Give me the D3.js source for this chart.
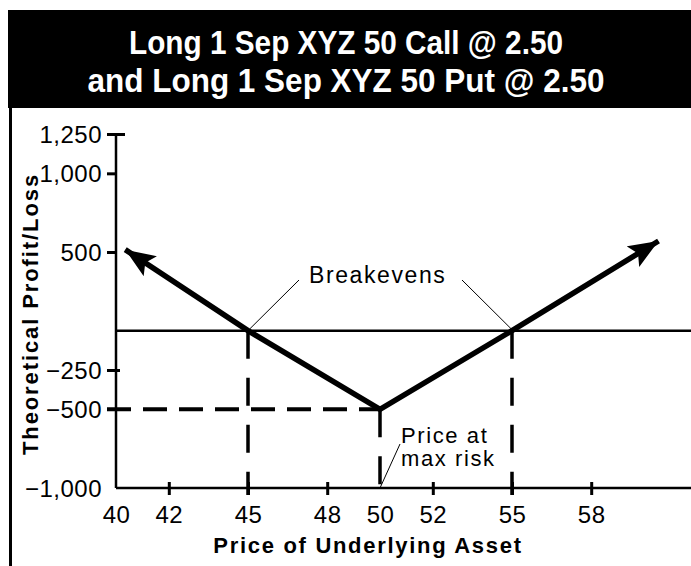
<!DOCTYPE html>
<html><head><meta charset="utf-8">
<script src="https://cdn.jsdelivr.net/npm/d3@7"></script>
<style>
html,body{margin:0;padding:0;background:#fff;}
svg{display:block;font-family:"Liberation Sans",Arial,Helvetica,sans-serif;}
</style></head>
<body><svg id="c" width="691" height="566"></svg>
<script>
const titleLines = ["Long 1 Sep XYZ 50 Call @ 2.50", "and Long 1 Sep XYZ 50 Put @ 2.50"];
const xTicks = [40, 42, 45, 48, 50, 52, 55, 58];
const yTicks = [1250, 1000, 500, -250, -500, -1000];
const payoffX = [40.35, 45, 50, 55, 60.55];
const payoffY = [515, 0, -500, 0, 570];
const breakevens = [45, 55];
const maxRiskPrice = [50];
const maxLoss = [-500];
const xLabel = "Price of Underlying Asset";
const yLabel = "Theoretical Profit/Loss";
const breakevenLabel = "Breakevens";
const maxRiskLabel = ["Price at", "max risk"];

const svg = d3.select("#c");
const x = d3.scaleLinear().domain([40, 50]).range([116, 380]);
const y = d3.scaleLinear().domain([-1000, 1250]).range([488, 134]);

// frame
svg.append("rect").attr("x", 8).attr("y", 10).attr("width", 683).attr("height", 98).attr("fill", "#000");
svg.append("rect").attr("x", 9).attr("y", 10).attr("width", 3).attr("height", 556).attr("fill", "#000");
const titleWidths = [434, 517];
svg.selectAll(".title").data(titleLines).join("text")
  .attr("x", 346).attr("y", (d, i) => 54 + i * 38)
  .attr("text-anchor", "middle").attr("fill", "#fff")
  .attr("font-weight", "bold").attr("font-size", 34)
  .attr("textLength", (d, i) => titleWidths[i]).attr("lengthAdjust", "spacingAndGlyphs")
  .text(d => d);

// defs arrow
const defs = svg.append("defs");
defs.append("marker").attr("id", "arr").attr("markerUnits", "userSpaceOnUse")
  .attr("viewBox", "0 0 30 24").attr("refX", 30).attr("refY", 12)
  .attr("markerWidth", 30).attr("markerHeight", 24).attr("orient", "auto-start-reverse")
  .append("path").attr("d", "M0,0 L30,12 L0,24 L6,12 Z").attr("fill", "#000");

const tickFont = t => t.attr("font-size", 24).attr("letter-spacing", 0.5).attr("fill", "#000")
  .attr("font-family", "Liberation Sans, Arial, sans-serif");

// x axis
const xAxis = d3.axisBottom(x).tickValues(xTicks).tickSize(0).tickPadding(0).tickFormat(d3.format("d"));
const gx = svg.append("g").attr("transform", `translate(0,${y(-1000)})`).call(xAxis);
gx.select(".domain").remove();
gx.append("line").attr("x1", x(40)).attr("x2", 691).attr("stroke", "#000").attr("stroke-width", 2.5);
gx.selectAll(".tick line").filter(d => d !== 40 && d !== 50)
  .attr("y1", -6).attr("y2", 7).attr("stroke", "#000").attr("stroke-width", 3);
gx.selectAll(".tick text").attr("y", 35).attr("dy", 0).call(tickFont);

// y axis
const fmtY = d => (d < 0 ? "\u2212" : "") + d3.format(",")(Math.abs(d));
const yAxis = d3.axisLeft(y).tickValues(yTicks).tickSize(0).tickPadding(0).tickFormat(fmtY);
const gy = svg.append("g").attr("transform", `translate(${x(40)},0)`).call(yAxis);
gy.select(".domain").remove();
gy.append("line").attr("y1", y(1250)).attr("y2", y(-1000)).attr("stroke", "#000").attr("stroke-width", 2.5);
gy.selectAll(".tick line").filter(d => d !== -1000 && d !== -500)
  .attr("x1", -9).attr("x2", d => d === 1250 ? 9 : (d === -250 ? 4 : 1))
  .attr("stroke", "#000").attr("stroke-width", 3);
gy.selectAll(".tick text").attr("x", -14).attr("dy", "0.36em").call(tickFont);

// zero line
svg.append("line").attr("x1", x(40)).attr("x2", 691).attr("y1", y(0)).attr("y2", y(0))
  .attr("stroke", "#000").attr("stroke-width", 2.5);

// dashed guides
const dashV = "28,19";
svg.selectAll(".bev").data(breakevens).join("line")
  .attr("x1", d => x(d)).attr("x2", d => x(d)).attr("y1", y(0)).attr("y2", y(-1000) + 7)
  .attr("stroke", "#000").attr("stroke-width", 3.5).attr("stroke-dasharray", dashV);
svg.selectAll(".mrp").data(maxRiskPrice).join("line")
  .attr("x1", d => x(d)).attr("x2", d => x(d)).attr("y1", y(maxLoss[0])).attr("y2", y(-1000))
  .attr("stroke", "#000").attr("stroke-width", 3.5).attr("stroke-dasharray", dashV);
svg.selectAll(".ml").data(maxLoss).join("line")
  .attr("x1", x(40) - 9).attr("x2", x(maxRiskPrice[0])).attr("y1", d => y(d)).attr("y2", d => y(d))
  .attr("stroke", "#000").attr("stroke-width", 4).attr("stroke-dasharray", "24,12");

// payoff line
const pts = payoffX.map((v, i) => [v, payoffY[i]]);
svg.append("path").datum(pts)
  .attr("d", d3.line().x(d => x(d[0])).y(d => y(d[1])))
  .attr("fill", "none").attr("stroke", "#000").attr("stroke-width", 5.5)
  .attr("stroke-linejoin", "miter")
  .attr("marker-start", "url(#arr)").attr("marker-end", "url(#arr)");

// annotations
svg.append("text").attr("x", 309).attr("y", 283).attr("font-size", 23).attr("letter-spacing", 1.6)
  .text(breakevenLabel);
svg.append("line").attr("x1", 299).attr("y1", 280).attr("x2", x(breakevens[0]) + 1).attr("y2", y(0) - 1)
  .attr("stroke", "#000").attr("stroke-width", 1);
svg.append("line").attr("x1", 462).attr("y1", 280).attr("x2", x(breakevens[1])).attr("y2", y(0) - 1)
  .attr("stroke", "#000").attr("stroke-width", 1);
svg.selectAll(".mr").data(maxRiskLabel).join("text")
  .attr("x", 401).attr("y", (d, i) => 443 + i * 23).attr("font-size", 22).attr("letter-spacing", 1.6)
  .text(d => d);
svg.append("line").attr("x1", x(maxRiskPrice[0])).attr("y1", y(-1000)).attr("x2", 400).attr("y2", 444)
  .attr("stroke", "#000").attr("stroke-width", 1);

// axis titles
svg.append("text").attr("x", 368).attr("y", 553).attr("text-anchor", "middle")
  .attr("font-weight", "bold").attr("font-size", 22).attr("letter-spacing", 1.7).text(xLabel);
svg.append("text").attr("transform", "translate(38,314) rotate(-90)").attr("text-anchor", "middle")
  .attr("font-weight", "bold").attr("font-size", 22).attr("letter-spacing", 1.9).text(yLabel);
</script></body></html>
